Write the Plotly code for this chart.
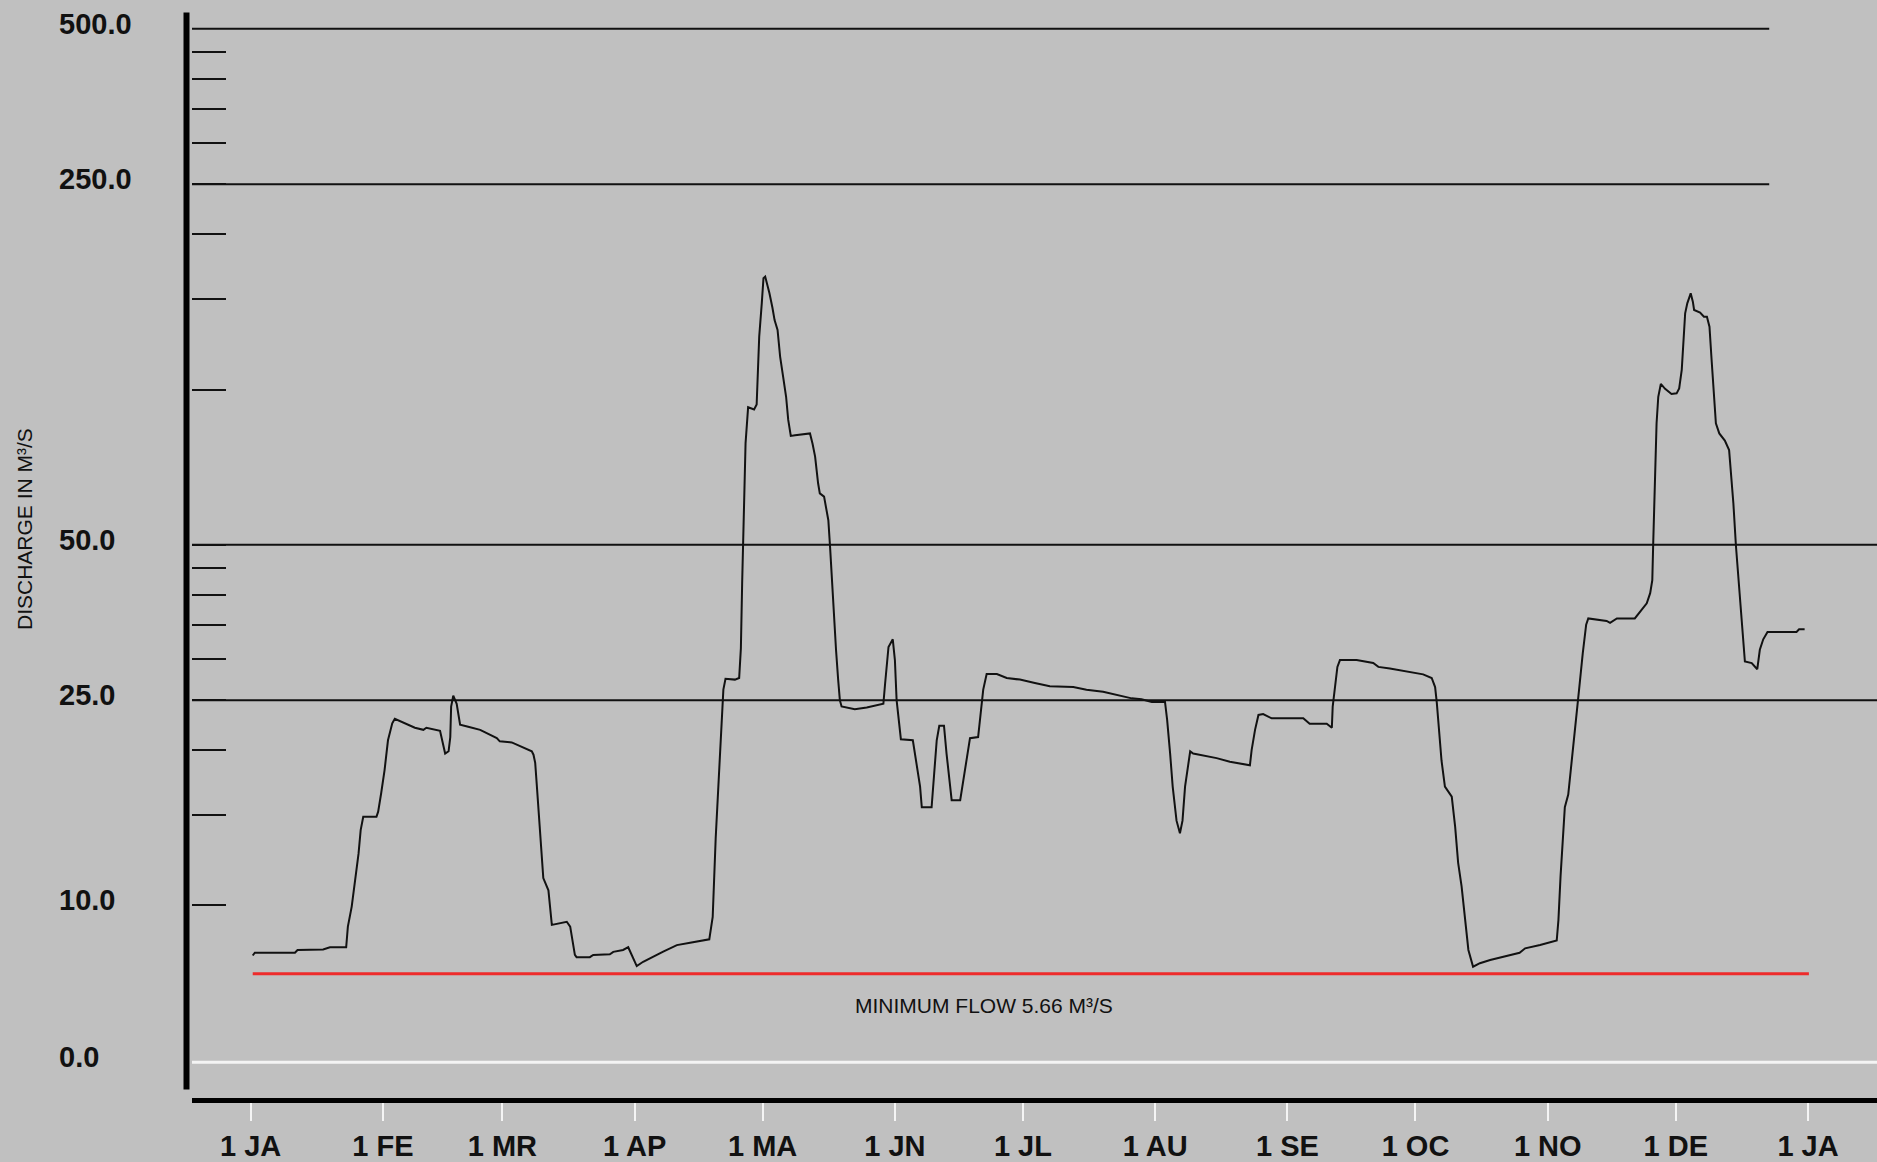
import numpy as np
import plotly.graph_objects as go

# ---------------- data ----------------
day = [0.5, 1.0, 10.4, 11.0, 17.0, 18.6, 22.4, 22.8, 23.7, 24.5, 25.3, 25.8, 26.4, 29.5, 29.9,
       30.6, 31.4, 32.2, 33.2, 33.8, 35.8, 38.5, 40.5, 41.2, 44.4, 45.6, 46.4, 46.8, 47.0, 47.5,
       48.3, 49.1, 51.0, 53.8, 57.7, 58.4, 61.2, 63.9, 65.9, 66.3, 66.7, 67.1, 67.6, 68.2, 68.6,
       69.8, 70.6, 74.1, 74.9, 76.0, 76.4, 79.5, 80.3, 84.2, 85.0, 87.3, 88.5, 90.5, 92.0, 96.7,
       99.9, 103.0, 106.8, 107.5, 108.3, 109.0, 109.7, 110.4, 110.8, 111.3, 113.5, 114.5, 114.9,
       115.2, 115.6, 116.0, 116.6, 118.0, 118.6, 118.8, 119.2, 119.8, 120.2, 120.6, 121.1, 121.6,
       122.3, 122.8, 123.5, 124.1, 124.8, 125.5, 126.0, 126.6, 127.6, 131.1, 131.7, 132.3, 133.0,
       133.4, 134.4, 134.9, 135.4, 135.8, 136.2, 136.7, 137.2, 137.7, 138.1, 138.5, 141.6, 144.4,
       148.3, 148.7, 149.5, 150.5, 151.0, 151.4, 152.4, 155.2, 156.1, 156.9, 157.3, 159.6, 160.2,
       160.8, 161.4, 162.5, 163.1, 163.9, 164.3, 166.3, 167.0, 167.8, 168.6, 170.5, 170.9, 171.3,
       171.7, 172.5, 174.9, 177.2, 180.3, 183.8, 187.3, 192.8, 195.9, 199.8, 203.0, 206.5, 208.8,
       211.2, 214.3, 214.8, 215.5, 216.1, 217.0, 217.8, 218.4, 219.0, 220.2, 220.9, 226.4, 229.5,
       234.2, 234.6, 235.4, 236.2, 237.3, 239.3, 246.7, 248.2, 252.2, 253.4, 253.6, 254.1, 254.7,
       255.3, 259.2, 263.1, 264.3, 267.0, 270.9, 274.8, 276.8, 277.6, 278.0, 278.5, 279.1, 279.9,
       280.7, 281.5, 282.3, 283.0, 283.8, 284.6, 285.4, 286.5, 288.1, 290.5, 295.1, 297.4, 298.7,
       302.2, 306.1, 306.5, 307.0, 307.5, 308.0, 308.8, 310.0, 310.8, 311.4, 312.2, 313.0, 313.5,
       317.8, 318.6, 320.2, 324.4, 325.6, 327.2, 328.0, 328.5, 328.7, 329.1, 329.5, 329.9, 330.5,
       331.5, 333.0, 334.2, 334.8, 335.4, 335.8, 336.2, 336.7, 337.5, 338.0, 338.3, 339.7, 340.6,
       341.3, 341.9, 342.4, 342.8, 343.4, 344.2, 345.5, 346.5, 346.9, 347.5, 348.1, 348.7, 349.1,
       349.6, 350.2, 351.8, 353.1, 353.7, 354.5, 355.5, 362.3, 362.9, 364.2]
flow = [8.0, 8.1, 8.1, 8.2, 8.22, 8.3, 8.3, 9.1, 9.95, 11.2, 12.6, 14.0, 14.86, 14.86, 15.2,
        16.5, 18.3, 20.9, 22.55, 23.0, 22.6, 22.1, 21.9, 22.1, 21.8, 19.7, 19.9, 21.2, 24.3, 25.5,
        24.6, 22.4, 22.2, 21.9, 21.1, 20.8, 20.7, 20.2, 19.9, 19.6, 18.9, 17.0, 14.9, 12.6, 11.3,
        10.7, 9.17, 9.30, 9.10, 8.02, 7.94, 7.94, 8.02, 8.04, 8.13, 8.2, 8.30, 7.63, 7.78, 8.14,
        8.38, 8.47, 8.58, 8.6, 9.5, 13.5, 17.5, 21.9, 26.2, 27.5, 27.4, 27.6, 31.5,
        42.1, 56.7, 78.7, 92.4, 91.5, 93.5, 102.8, 126.6, 146.9, 164.3, 165.5, 160.0, 153.6,
        144.0, 136.3, 130.4, 115.8, 105.9, 96.8, 87.3, 81.3, 81.5, 82.2, 78.5, 74.1, 65.8,
        62.9, 62.0, 59.0, 55.8, 49.6, 42.7, 36.3, 31.3, 27.4, 25.0, 24.3, 24.0, 24.2,
        24.6, 26.9, 31.7, 32.8, 29.9, 25.0, 21.0, 20.9, 18.9, 17.0, 15.5, 15.5, 18.0,
        20.9, 22.3, 22.3, 19.7, 17.0, 16.0, 16.0, 17.5, 19.4, 21.1, 21.2, 22.6, 24.3,
        26.2, 28.1, 28.1, 27.6, 27.4, 27.0, 26.6, 26.5, 26.2, 25.96, 25.6, 25.2, 25.1,
        24.8, 24.8, 22.9, 19.7, 17.0, 14.6, 13.8, 14.6, 17.0, 19.9, 19.7, 19.3, 19.0,
        18.7, 20.0, 21.9, 23.4, 23.5, 23.05, 23.05, 22.5, 22.5, 22.1, 24.3, 26.5, 29.0,
        29.9, 29.9, 29.5, 29.0, 28.8, 28.4, 28.05, 27.6, 26.5, 24.7, 21.9, 19.1, 17.0,
        16.6, 16.25, 14.2, 12.1, 10.9, 9.37, 8.20, 7.61, 7.73, 7.84, 8.02, 8.1, 8.26,
        8.38, 8.55, 9.37, 11.4, 13.4, 15.5, 16.4, 20.3, 23.2, 26.5, 30.8, 35.0, 36.0,
        35.6, 35.3, 36.0, 36.0, 37.1, 38.5, 40.3, 42.7, 49.8, 68.8, 86.0, 96.8, 102.5,
        100.3, 98.0, 98.3, 100.5, 109.1, 126.6, 140.5, 146.9, 153.6, 148.0, 142.6, 141.0, 138.4,
        138.4, 132.3, 114.1, 101.3, 86.0, 82.2, 79.6, 76.3, 69.8, 60.2, 49.8, 42.7, 38.5,
        34.7, 29.7, 29.5, 28.7, 31.3, 32.8, 33.9, 33.9, 34.3, 34.3]

month_starts = [0, 31, 59, 90, 120, 151, 181, 212, 243, 273, 304, 334, 365]
month_labels = ["1 JA", "1 FE", "1 MR", "1 AP", "1 MA", "1 JN", "1 JL", "1 AU",
                "1 SE", "1 OC", "1 NO", "1 DE", "1 JA"]

y_label_values = [500, 250, 50, 25, 10]
y_label_text = ["500.0", "250.0", "50.0", "25.0", "10.0"]
zero_line_value = 4.97          # where the "0.0" baseline sits on the log scale
zero_label_text = "0.0"
grid_short = [500, 250]
grid_long = [50, 25]
y_tick_values = [450, 400, 350, 300, 250, 200, 150, 100, 50, 45, 40, 35, 30, 25, 20, 15, 10]

min_flow_plotted = 7.37         # drawn position of the red minimum-flow line
min_flow_span = [0.5, 365.2]
min_flow_text = "MINIMUM FLOW 5.66 M³/S"
y_title = "DISCHARGE IN M³/S"

# ---------------- geometry ----------------
W, H = 1877, 1162
ML, MR, MT, MB = 192, 0, 12, 64
PW, PH = W - ML - MR, H - MT - MB
x_range = [-13.73, 381.16]
y_range = [0.6269, 2.7316]
grid_short_end = 355.9

BG = "#c0c0c0"
FONT = "Liberation Sans, Arial, sans-serif"


def px_to_paper_x(px):
    return (px - ML) / PW


def px_to_paper_y(py):
    return (H - MB - py) / PH


fig = go.Figure()

# gridlines
for v in grid_short:
    fig.add_trace(go.Scatter(x=[x_range[0], grid_short_end], y=[v, v], mode="lines",
                             line=dict(color="#111111", width=2), hoverinfo="skip"))
for v in grid_long:
    fig.add_trace(go.Scatter(x=[x_range[0], x_range[1]], y=[v, v], mode="lines",
                             line=dict(color="#111111", width=2), hoverinfo="skip"))
# white zero baseline
fig.add_trace(go.Scatter(x=[x_range[0], x_range[1]], y=[zero_line_value, zero_line_value],
                         mode="lines", line=dict(color="#f4f4f4", width=3), hoverinfo="skip"))
# minimum flow line
fig.add_trace(go.Scatter(x=min_flow_span, y=[min_flow_plotted, min_flow_plotted], mode="lines",
                         line=dict(color="#ee2b2b", width=3), hoverinfo="skip"))
# hydrograph
fig.add_trace(go.Scatter(x=day, y=flow, mode="lines",
                         line=dict(color="#111111", width=2)))

annotations = []
for v, t in zip(y_label_values, y_label_text):
    annotations.append(dict(xref="paper", yref="y", x=px_to_paper_x(57), y=float(np.log10(v)),
                            text=t, showarrow=False, xanchor="left", yanchor="middle", yshift=5,
                            font=dict(family=FONT, size=29, color="#111111", weight="bold")))
annotations.append(dict(xref="paper", yref="y", x=px_to_paper_x(57),
                        y=float(np.log10(zero_line_value)), text=zero_label_text,
                        showarrow=False, xanchor="left", yanchor="middle", yshift=5,
                        font=dict(family=FONT, size=29, color="#111111", weight="bold")))
annotations.append(dict(xref="paper", yref="paper", x=px_to_paper_x(24), y=px_to_paper_y(529),
                        text=y_title, textangle=-90, showarrow=False,
                        xanchor="center", yanchor="middle",
                        font=dict(family=FONT, size=21, color="#111111")))
annotations.append(dict(xref="x", yref="paper", x=141.1, y=px_to_paper_y(1005.5),
                        text=min_flow_text, showarrow=False, xanchor="left", yanchor="middle",
                        font=dict(family=FONT, size=21, color="#111111")))

shapes = [
    # y axis bar
    dict(type="line", xref="paper", yref="paper",
         x0=px_to_paper_x(186.5), x1=px_to_paper_x(186.5),
         y0=px_to_paper_y(1089.5), y1=px_to_paper_y(12.5),
         line=dict(color="#000000", width=6)),
]

fig.update_layout(
    width=W, height=H,
    margin=dict(l=ML, r=MR, t=MT, b=MB, pad=0, autoexpand=False),
    paper_bgcolor=BG, plot_bgcolor=BG,
    showlegend=False,
    annotations=annotations,
    shapes=shapes,
    xaxis=dict(range=x_range, showgrid=False, zeroline=False, automargin=False,
               showline=True, linecolor="#000000", linewidth=5,
               tickmode="array", tickvals=month_starts, ticktext=month_labels,
               ticks="outside", ticklen=18, tickwidth=2, tickcolor="#f4f4f4",
               ticklabelstandoff=0,
               tickfont=dict(family=FONT, size=29, color="#111111", weight="bold")),
    yaxis=dict(type="log", range=y_range, showgrid=False, zeroline=False, showline=False,
               automargin=False,
               tickmode="array", tickvals=y_tick_values, showticklabels=False,
               ticks="inside", ticklen=34, tickwidth=2, tickcolor="#111111"),
)

fig.write_html("out.html", config={"displayModeBar": False},
               post_script="document.body.style.margin='0';document.body.style.background='#c0c0c0';")
